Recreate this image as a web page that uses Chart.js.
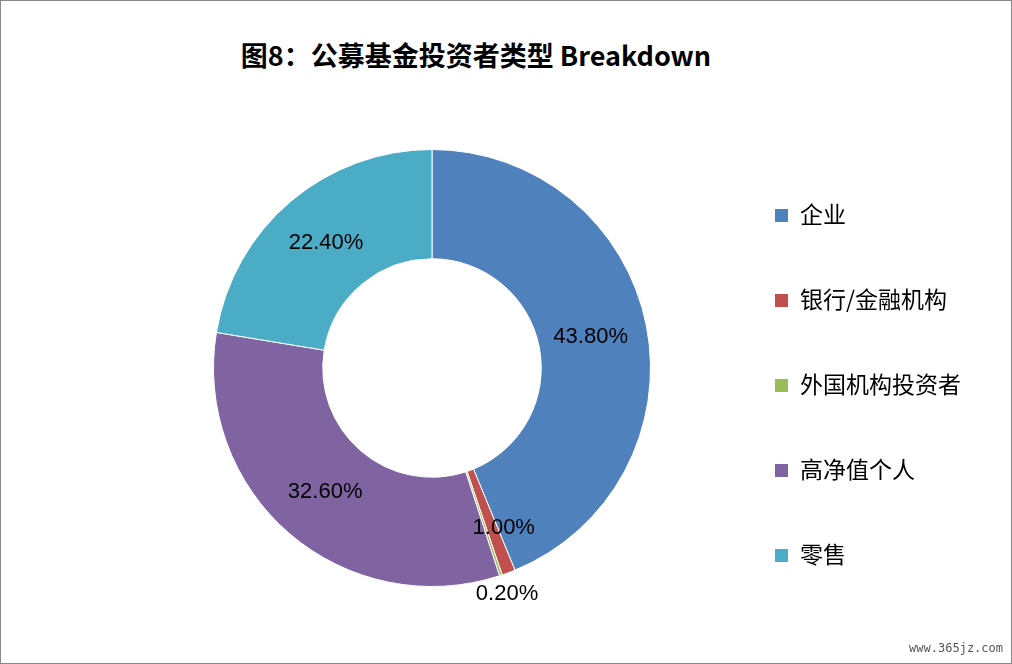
<!DOCTYPE html>
<html><head><meta charset="utf-8">
<script src="https://cdn.jsdelivr.net/npm/chart.js@4"></script>
<style>
body{margin:0;background:#fff;font-family:"Noto Sans CJK SC",sans-serif;}
#wrap{position:relative;width:1010px;height:662px;border:1px solid #888;overflow:hidden}
#title{position:absolute;left:0;width:950px;top:34px;text-align:center;font-size:27px;font-weight:bold;color:#000}
canvas{position:absolute;left:0;top:0}
.lg{position:absolute;left:774px;font-size:23px;color:#000;line-height:30px}
.lg span{display:inline-block;width:13px;height:13px;margin-right:12px;vertical-align:1px}
#wm{position:absolute;right:8px;bottom:8px;font-size:12px;color:#555;font-family:"DejaVu Sans Mono",monospace}
</style></head><body>
<div id="wrap">
<div id="title">图8：公募基金投资者类型 Breakdown</div>
<canvas id="c" width="1010" height="662"></canvas>
<div id="legend"></div>
<div id="wm">www.365jz.com</div>
</div>
<script>
const categories=["企业","银行/金融机构","外国机构投资者","高净值个人","零售"];
const values=[43.8,1.0,0.2,32.6,22.4];
const labels=["43.80%","1.00%","0.20%","32.60%","22.40%"];
const colors=["#4F81BD","#C0504D","#9BBB59","#8064A2","#4BACC6"];
const labelR=[0.74,0.78,1.09,0.75,0.75];
const lg=document.getElementById('legend');
categories.forEach((c,i)=>{const d=document.createElement('div');d.className='lg';d.style.top=(197+i*85)+'px';d.innerHTML='<span style="background:'+colors[i]+'"></span>'+c;lg.appendChild(d);});
const lblPlugin={id:'lbl',afterDatasetsDraw(ch){const ctx=ch.ctx;const meta=ch.getDatasetMeta(0);ctx.save();ctx.font='22px "Liberation Sans",sans-serif';ctx.fillStyle='#000';ctx.textAlign='center';ctx.textBaseline='middle';
meta.data.forEach((a,i)=>{const p=a.getProps(['x','y','startAngle','endAngle','outerRadius'],true);const m=(p.startAngle+p.endAngle)/2;const r=p.outerRadius*labelR[i];ctx.fillText(labels[i],p.x+Math.cos(m)*r+(i==1?12:0),p.y+Math.sin(m)*r);});ctx.restore();}};
new Chart(document.getElementById('c'),{type:'doughnut',data:{labels:categories,datasets:[{data:values,backgroundColor:colors,borderColor:'#fff',borderWidth:1}]},
options:{responsive:false,animation:false,cutout:'50%',layout:{padding:{top:148,bottom:76,left:212,right:360}},plugins:{legend:{display:false},tooltip:{enabled:false}}},plugins:[lblPlugin]});
</script></body></html>
